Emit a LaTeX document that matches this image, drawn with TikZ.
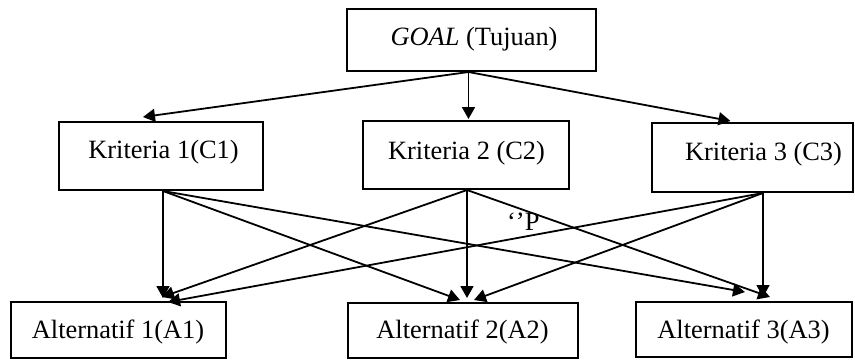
\documentclass[tikz,border=0pt]{standalone}
\usepackage{fontspec}
\setmainfont{Liberation Serif}
\usetikzlibrary{arrows.meta,calc}
\begin{document}
\begin{tikzpicture}[x=1pt,y=-1pt,
  box/.style={draw, line width=2pt, inner sep=0pt},
  txt/.style={anchor=base, inner sep=0pt, font=\fontsize{26.4}{30}\selectfont},
  conn/.style={line width=1.8pt, -{Triangle[length=12pt,width=13pt]}}]
\useasboundingbox (0,0) rectangle (855,360);
% boxes
\node[box, minimum width=249pt, minimum height=62pt] (goal) at (471.5,40) {};
\node[box, minimum width=204pt, minimum height=68pt] (c1) at (161,156) {};
\node[box, minimum width=206pt, minimum height=68pt] (c2) at (466,155) {};
\node[box, minimum width=201pt, minimum height=69pt] (c3) at (752.5,157.5) {};
\node[box, minimum width=215pt, minimum height=56pt] (a1) at (118.5,330) {};
\node[box, minimum width=230pt, minimum height=55pt] (a2) at (463,330.5) {};
\node[box, minimum width=216pt, minimum height=55pt] (a3) at (744,329.5) {};
% texts
\node[txt] (tg) at (474,45) {\textit{GOAL} (Tujuan)};
\node[txt] (t1) at (163.5,158) {Kriteria 1(C1)};
\node[txt] (t2) at (466.5,159) {Kriteria 2 (C2)};
\node[txt] (t3) at (763.5,160) {Kriteria 3 (C3)};
\node[txt] (u1) at (118,338) {Alternatif 1(A1)};
\node[txt] (u2) at (462.5,338) {Alternatif 2(A2)};
\node[txt] (u3) at (743.5,338) {Alternatif 3(A3)};
\node[txt, anchor=base west] (p) at (507,230) {‘’P};
% connector ends
\coordinate (go) at ($(goal.south)+(-3,0)$);
\coordinate (c1i) at ($(c1.north)+(-18,-4)$);
\coordinate (c2i) at ($(c2.north)+(2.5,-1)$);
\coordinate (c3i) at ($(c3.north)+(-22,-1)$);
\coordinate (c1o) at ($(c1.south)+(2,0)$);
\coordinate (c2o) at ($(c2.south)+(1,0)$);
\coordinate (c3o) at ($(c3.south)+(10.5,0)$);
\coordinate (t11) at ($(a1.north)+(44.5,-3)$);
\coordinate (t21) at ($(a1.north)+(43.5,-4)$);
\coordinate (t31) at ($(a1.north)+(49.5,1)$);
\coordinate (t12) at ($(a2.north)+(-3,-2)$);
\coordinate (t22) at ($(a2.north)+(4,-4)$);
\coordinate (t32) at ($(a2.north)+(11,-2)$);
\coordinate (t13) at ($(a3.north)+(1,-9)$);
\coordinate (t23) at ($(a3.north)+(26,-4)$);
\coordinate (t33) at ($(a3.north)+(19,-4)$);
% connectors
\draw[conn] (go) -- (c1i);
\draw[conn] (go) -- (c2i);
\draw[conn] (go) -- (c3i);
\draw[conn] (c1o) -- (t11);
\draw[conn] (c1o) -- (t12);
\draw[conn] (c1o) -- (t13);
\draw[conn] (c2o) -- (t21);
\draw[conn] (c2o) -- (t22);
\draw[conn] (c2o) -- (t23);
\draw[conn] (c3o) -- (t31);
\draw[conn] (c3o) -- (t32);
\draw[conn] (c3o) -- (t33);
\end{tikzpicture}
\end{document}
